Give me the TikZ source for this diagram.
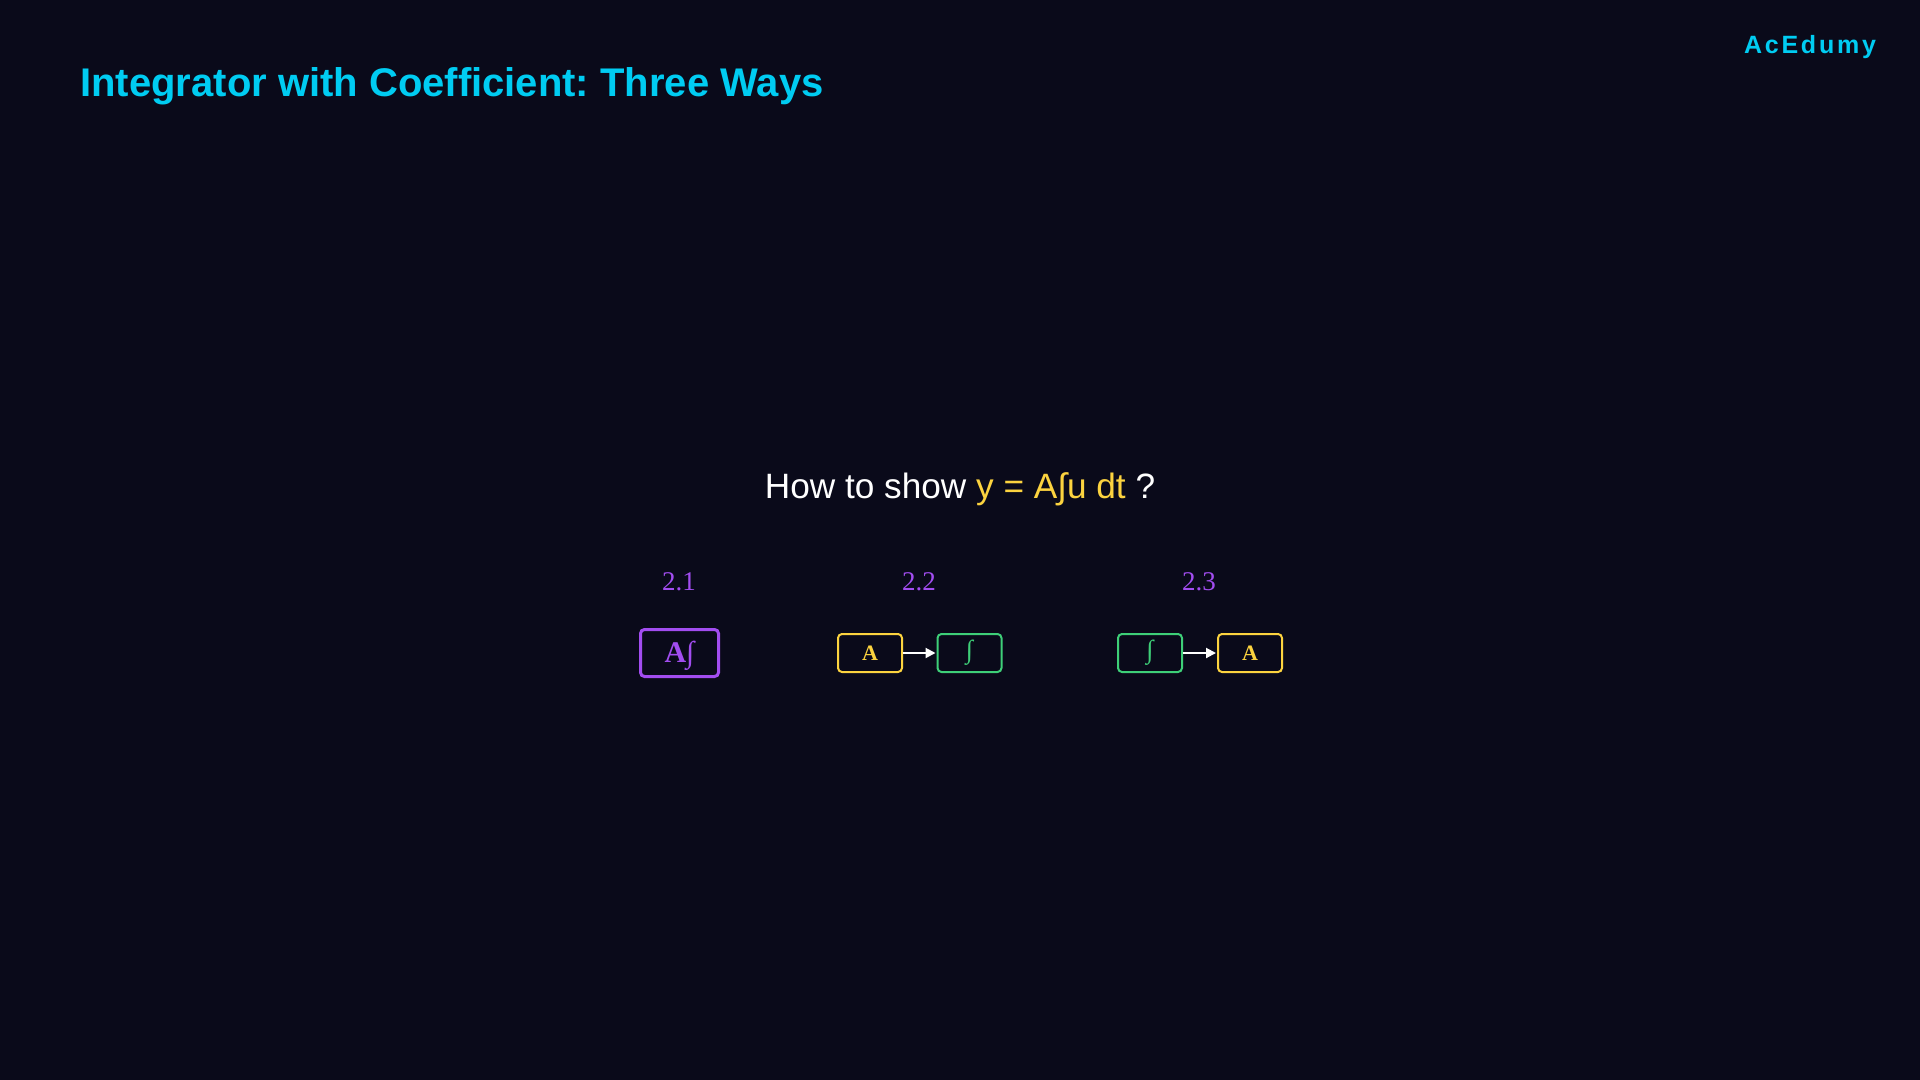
\documentclass[tikz,border=0pt]{standalone}
\usepackage{fontspec}
\setmainfont{Liberation Serif}
\setsansfont{Liberation Sans}
\newfontfamily\brandfont[LetterSpace=11]{Liberation Sans}
\usetikzlibrary{arrows.meta,positioning}
\definecolor{bgnavy}{HTML}{0A0A1A}
\definecolor{titlecyan}{HTML}{00CCF2}
\definecolor{coefyellow}{HTML}{FCD33F}
\definecolor{intgreen}{HTML}{3ECF78}
\definecolor{wayviolet}{HTML}{A24DF0}
\frenchspacing
\begin{document}
\begin{tikzpicture}[x=0.5pt,y=-0.5pt,
  blockbox/.style={draw,rounded corners=2pt,line width=1pt,minimum width=32pt,minimum height=19pt,inner sep=0pt,font=\bfseries\fontsize{11}{11}\selectfont},
  waylabel/.style={text=wayviolet,font=\fontsize{13.5}{13.5}\selectfont},
  flowarrow/.style={draw=white,line width=1pt,-{Triangle[length=5pt,width=5pt]},shorten >=0.5pt}]
\useasboundingbox (0,0) rectangle (1920,1080);
\fill[bgnavy] (0,0) rectangle (1920,1080);
% heading and brand
\node[anchor=west,inner sep=0pt,text=titlecyan,font=\sffamily\bfseries\fontsize{20}{20}\selectfont] (title) at (80,86) {Integrator with Coefficient: Three Ways};
\node[inner sep=0pt,text=titlecyan,font=\brandfont\bfseries\fontsize{12.5}{12.5}\selectfont] (brand) at (1810,47) {AcEdumy};
% question
\node[inner sep=0pt,text=white,font=\sffamily\fontsize{17.6}{17.6}\selectfont] (question) at (960,489) {How to show \textcolor{coefyellow}{y = A∫u dt} ?};
% way 2.1
\node[waylabel] (way1) at (679,582) {2.1};
\node[blockbox,draw=wayviolet,text=wayviolet,line width=1.5pt,minimum width=39pt,minimum height=23.5pt,font=\bfseries\fontsize{15}{15}\selectfont] (combined) at (679.5,653) {A\smash{∫}};
% way 2.2
\node[waylabel] (way2) at (919,582) {2.2};
\node[blockbox,draw=coefyellow,text=coefyellow] (gainB) at (870,653) {A};
\node[blockbox,draw=intgreen,text=intgreen,font=\fontsize{13}{13}\selectfont] (integB) at (969.5,653) {∫};
\draw[flowarrow] (gainB) -- (integB);
% way 2.3
\node[waylabel] (way3) at (1199,582) {2.3};
\node[blockbox,draw=intgreen,text=intgreen,font=\fontsize{13}{13}\selectfont] (integC) at (1150,653) {∫};
\node[blockbox,draw=coefyellow,text=coefyellow] (gainC) at (1250,653) {A};
\draw[flowarrow] (integC) -- (gainC);
\end{tikzpicture}
\end{document}
